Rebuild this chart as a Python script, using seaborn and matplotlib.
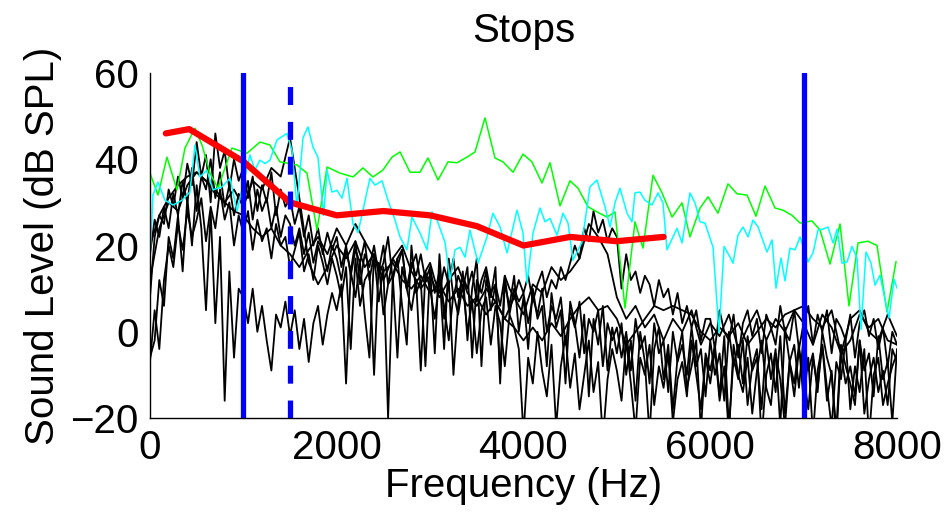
import numpy as np
import pandas as pd
import matplotlib
matplotlib.use('Agg')
import matplotlib.pyplot as plt
import seaborn as sns

# ---- data ----
# green spectrum (Hz, dB)
green_hz = [0, 86, 182, 289, 375, 482, 557, 643, 728, 878, 1039, 1178, 1285, 1392, 1574, 1681,
            1789, 1896, 2035, 2174, 2281, 2388, 2495, 2592, 2678, 2785, 2892, 2977, 3085, 3192,
            3288, 3395, 3481, 3588, 3695, 3781, 3888, 3995, 4091, 4198, 4284, 4391, 4498, 4584,
            4691, 4787, 4895, 4980, 5087, 5194, 5280, 5387, 5484, 5591, 5698, 5783, 5891, 5976,
            6083, 6190, 6287, 6394, 6490, 6587, 6694, 6779, 6876, 6962, 7090, 7176, 7283, 7390,
            7486, 7583, 7690, 7786, 7893, 7990]
green_db = [36.8, 31.7, 40.5, 32.9, 42.6, 47.2, 43.3, 36.8, 33.3, 42.6, 41.4, 44, 43.3, 39.4, 38.7, 36.8,
            23.6, 38.2, 36.8, 35.9, 38, 35.9, 37.5, 40.5, 41.7, 37, 37, 40.3, 35.2, 39.4,
            39.2, 40.5, 41.7, 49.6, 40.3, 39.4, 37, 41.2, 39.4, 34.5, 39.2, 29.2, 35, 33.3,
            29, 27.8, 26.6, 27.8, 5.5, 25.5, 19.4, 36.3, 32.2, 26.6, 29.9, 22, 28.7, 31.3,
            27.5, 34.3, 32, 31.7, 26.8, 33.8, 28.7, 28.2, 27, 25.2, 25.7, 23.6, 15.7, 25,
            6, 20.6, 21, 20, 4.6, 16.3]

# cyan spectrum (Hz, dB)
cyan_hz = [0, 32, 86, 161, 246, 343, 428, 482, 535, 610, 675, 771, 857, 932, 1017, 1071, 1124, 1178,
           1232, 1285, 1360, 1467, 1521, 1574, 1639, 1692, 1746, 1799, 1860, 1896, 1949, 2003, 2056,
           2110, 2174, 2228, 2356, 2410, 2485, 2549, 2624, 2678, 2752, 2806, 2892, 2967, 3020, 3074,
           3159, 3213, 3267, 3320, 3374, 3427, 3513, 3609, 3673, 3749, 3824, 3931, 3995, 4038, 4102,
           4177, 4231, 4284, 4359, 4423, 4477, 4530, 4627, 4712, 4787, 4873, 4927, 4980, 5034, 5109,
           5162, 5194, 5248, 5301, 5376, 5441, 5494, 5537, 5644, 5698, 5783, 5837, 5891, 5944, 6030,
           6094, 6148, 6212, 6244, 6297, 6351, 6405, 6458, 6512, 6608, 6662, 6704, 6758, 6801, 6854,
           6908, 6962, 7047, 7101, 7154, 7208, 7261, 7315, 7358, 7411, 7465, 7518, 7572, 7615, 7668,
           7722, 7765, 7818, 7872, 7915, 7968, 8000]
cyan_db = [16.6, 31.7, 34.7, 30.5, 29.4, 30.5, 32.4, 43.3, 35.9, 37.5, 32.9, 33.6, 35.6, 28, 36, 41, 37.5, 39.8,
           39, 39.8, 44.5, 46, 42, 29, 45, 47.5, 42.8, 40.5, 27, 37.5, 32.4, 32.8, 31,
           35.6, 25, 23, 35.6, 34, 35, 30.5, 25.9, 22, 19, 26.6, 22.9, 19, 27.8, 25.9,
           20.8, 12, 19, 19.6, 17.3, 23.6, 15.9, 22, 27.5, 24.3, 18.3, 28.2, 22.9, 11.3, 22.9,
           28.7, 25.5, 26.3, 22.4, 27.5, 25.2, 16.6, 20.8, 33.6, 35.2, 29, 24.3, 29.9, 33.3, 27.5,
           25.5, 32.2, 32.4, 30.5, 29.4, 32.2, 29.9, 19, 24, 20.6, 32.2, 29.9, 25.5, 25.2, 19.6,
           -0.2, 19.8, 17.3, 15.9, 22.4, 24.3, 22, 25.9, 24.3, 18.5, 21.3, 10.1, 17.1, 11.8, 19.4,
           19, 22, 16.2, 18.3, 23.6, 23.8, 24.3, 20.6, 23.8, 15.9, 16.2, 19.8, 17.1, 0.5, 18.5,
           15.9, 10.8, 13.1, 7.4, 3.2, 12.2, 10.1]

# black token spectra, fine ones on a 50 Hz grid (0..8000)
fine_hz = list(range(0, 8001, 50))
black1 = [8, 22, 27, 25, 33, 29, 36, 31, 39, 34, 44, 36, 41, 30, 46, 38, 42, 33, 40, 35,
          38, 31, 36, 28, 34, 30, 37, 27, 33, 29, 31, 25, 29, 22, 27, 20, 24, 18, 23, 19,
          22, 15, 20, 13, 19, 16, 21, 12, 18, 14, 20, 11, 17, 15, 19, 10, 16, 13, 18, 12,
          15, 9, 14, -4, 17, 8, 13, 10, 15, -6, 12, 9, 14, 5, 11, -9, 13, 4, 10, 7,
          9, 2, 8, 4, 10, 0, 6, 3, 8, -3, 5, 1, 7, -5, 3, 0, 5, -8, 2, -2,
          1, -6, 0, -9, 3, -4, -1, -12, 2, -5, -2, -14, 0, -7, -3, -10, 1, -8, -4, -15,
          -2, -10, -5, -16, 0, -8, -3, -12, -1, -9, -6, -18, -2, -11, -4, -22, 1, -7, -3, -13,
          -1, -9, -5, -14, 0, -6, -10, -23, -3, -8, -12, -17, -2, -9, -5, -15, -1, -11, -7, -21,
          -4]
black2 = [-6, -2, 12, 6, 22, 17, 27, 14, 31, 20, 34, 24, 5, 28, 2, 22, -16, 14, -6, 10,
          8, 2, 10, 0, 6, -2, -9, 4, 1, 7, -1, 5, -4, 3, -7, 2, 6, -3, 4, 9,
          5, 11, -12, 14, 8, 16, 4, -6, 18, 7, 15, -20, 13, 17, 6, -3, 20, 9, 12, -8,
          15, -5, 18, 3, 12, -10, 6, 14, -2, 10, 17, -8, 12, 8, 15, -12, 11, 6, 13, 0,
          8, -4, 10, 3, 6, -8, 9, 1, 5, -12, 7, 2, -6, 4, -15, 3, -3, 6, -9, 1,
          -5, 2, -10, -2, -16, 0, -7, -24, -4, 1, -11, -3, -18, -6, 0, -13, -8, -2, -23, -5,
          -9, -3, -15, -1, -22, -6, -11, -2, -17, -8, -4, -25, -10, -5, -14, -1, -19, -7, -12, -3,
          -16, -6, -24, -9, -3, -13, -22, -7, -11, -2, -18, -8, -14, -4, -25, -10, -6, -17, -12, -8,
          -5]
black3 = [18, 26, 22, 29, 24, 32, 27, 35, 30, 38, 28, 36, 33, 40, 31, 37, 29, 34, 27, 32,
          30, 35, 26, 33, 28, 31, 24, 29, 22, 27, 25, 20, 24, 18, 23, 16, 21, 19, 14, 20,
          17, 12, 19, 14, 21, 11, 18, 15, 20, 13, 16, 22, 12, 17, 19, 10, 15, 18, 11, 14,
          16, 12, 9, 15, 11, 17, 8, 13, 10, 14, 7, 12, 15, 9, 11, 6, 13, 10, 8, 12,
          9, 13, 7, 11, 14, 8, 12, 10, 15, 12, 16, 20, 17, 24, 21, 28, 23, 26, 21, 24,
          22, 10, 18, 12, 14, 9, 13, 11, 6, 12, 8, 10, 4, 9, 2, 6, 1, 5, -2, 3,
          3, -4, 5, 0, -2, 4, -6, 2, 5, -1, 3, -5, 4, 1, -3, 6, 0, -2, 5, -4,
          2, 6, -3, 4, 0, 5, -5, 3, 1, -2, 4, -6, 2, 5, -1, 3, -4, 1, -8, 0,
          -3]
black4 = [-7, 5, -4, 12, 20, 15, 25, 19, 28, 22, 26, 31, 21, 29, 24, 33, 26, 30, 20, 27,
          23, 28, 19, 26, 21, 24, 17, 25, 20, 22, 15, 19, 23, 14, 18, 12, 20, 16, 11, 17,
          13, 8, 15, -4, 17, 6, 12, 14, -10, 16, 4, 11, 13, -6, 15, 10, 5, 12, -9, 14,
          10, 3, 12, 6, -2, 9, 4, 11, 0, 7, -5, 5, 8, -3, 6, 2, -8, 4, 1, -4,
          -24, -6, -12, 0, -9, -15, -3, -22, -8, -1, -13, -5, -18, -10, -2, -14, -7, -25, -11, -4,
          -9, -16, -2, -12, -23, -6, -10, -3, -17, -8, -13, -5, -21, -11, -7, -15, -2, -10, -18, -6,
          -12, -4, -16, -8, -24, -3, -10, -14, -6, -19, -9, -2, -13, -17, -5, -11, -22, -7, -15, -4,
          -10, -18, -6, -13, -3, -16, -9, -25, -5, -12, -8, -15, -2, -19, -11, -6, -14, -9, -17, -4,
          -7]

# smoother black tokens on a 100 Hz grid
coarse_hz = list(range(0, 8001, 100))
black5 = [12, 24, 30, 28, 34, 37, 35, 32, 30, 33, 29, 35, 33, 38, 36, 45, 31, 16, 11, 15,
          20, 17, 21, 15, 18, 12, 17, 20, 14, 10, 13, 8, 12, 15, 9, 6, 10, 7, 3, 8,
          4, 11, 9, 15, 12, 14, 17, 25, 22, 18, 8, 3, 6, 1, 4, -2, 3, 0, 5, -3,
          2, -1, 4, -4, 1, 5, -2, 3, 0, 5, 2, -3, 4, 1, -5, 3, 5, 0, -2, 4, -1]
black6 = [20, 27, 31, 34, 36, 37, 35, 33, 30, 28, 27, 24, 22, 24, 20, 18, 15, 19, 22, 18,
          24, 20, 25, 21, 17, 14, 16, 12, 10, 13, 9, 11, 7, 10, 6, 8, 4, 7, 3, 1,
          -2, 1, -2, 2, -1, 3, 6, 8, 5, 6, 3, -3, 0, 3, 6, 5, 6, 5, 4, 0,
          -2, 1, -1, 2, -3, 0, 3, 1, 4, 5, 6, 3, 1, 5, -5, -2, 4, 1, 3, -2, -3]

# mean of the stops and band edges
red_hz = [170, 420, 1000, 1500, 2000, 2500, 3000, 3500, 4000, 4500, 5000, 5500]
red_db = [46, 47, 39.5, 30, 27, 28, 27, 24.5, 20, 22, 21, 22]
edges_solid = [1000, 7000]
edges_dashed = [1500]

# ---- plotting ----
sns.set_style('white')
plt.rcParams['font.family'] = ['Liberation Sans', 'DejaVu Sans']
plt.rcParams['text.color'] = 'black'
plt.rcParams['axes.labelcolor'] = 'black'

fig = plt.figure(figsize=(9.45, 5.18), dpi=100)
ax = fig.add_axes([0.1587, 0.193, 0.7905, 0.666])

for yy in [black1, black2, black3, black4]:
    sns.lineplot(x=fine_hz, y=yy, color='black', linewidth=1.3, sort=False, estimator=None, ax=ax)
for yy in [black5, black6]:
    sns.lineplot(x=coarse_hz, y=yy, color='black', linewidth=1.3, sort=False, estimator=None, ax=ax)
sns.lineplot(x=green_hz, y=green_db, color='#00ff00', linewidth=1.1, sort=False, estimator=None, ax=ax)
sns.lineplot(x=cyan_hz, y=cyan_db, color='#00ffff', linewidth=1.1, sort=False, estimator=None, ax=ax)
sns.lineplot(x=red_hz, y=red_db, color='#ff0000', linewidth=4.5, sort=False, estimator=None, ax=ax)

for f in edges_solid:
    ax.axvline(f, color='#0000ff', linewidth=3.8)
for f in edges_dashed:
    ax.axvline(f, color='#0000ff', linewidth=3.8, dashes=(3.4, 3.2))

ax.set_xlim(0, 8000)
ax.set_ylim(-20, 60)
ax.set_xticks([0, 2000, 4000, 6000, 8000])
ax.set_yticks([-20, 0, 20, 40, 60])
ax.tick_params(direction='in', length=5, width=1, labelsize=29, pad=8, colors='black')
for s in ['top', 'right']:
    ax.spines[s].set_visible(False)
for s in ['left', 'bottom']:
    ax.spines[s].set_color('black')
    ax.spines[s].set_linewidth(1.0)

ax.set_title('Stops', fontsize=29, pad=22, color='black')
ax.set_xlabel('Frequency (Hz)', fontsize=29, labelpad=0)
ax.set_ylabel('Sound Level (dB SPL)', fontsize=29, labelpad=6)

fig.savefig('out.png', dpi=100)
